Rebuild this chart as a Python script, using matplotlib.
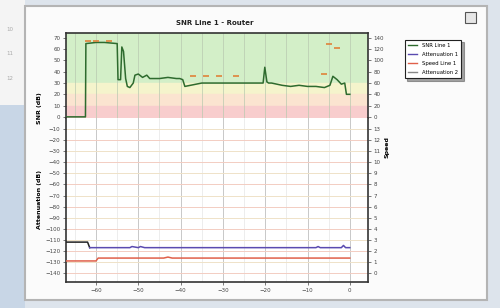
# SNR / attenuation chart, redrawn from a screenshot.

import matplotlib.pyplot as plt
from matplotlib.patches import Rectangle

# Values.

snr_t = [-67, -62.5, -62.4, -60, -58, -55, -54.8, -54.2, -53.9, -53.5, -53, -52.6, -52,
         -51.2, -50.8, -50, -49, -48, -47.3, -45, -43, -41, -40.2, -39.5, -39, -35, -30,
         -25, -20.5, -20.1, -19.6, -19.2, -18.5, -16, -14, -12, -10, -8, -6, -4.7, -4, -3,
         -2, -1.2, -0.8, 0]
snr_v = [0, 0, 65, 66, 66, 65, 33, 33, 62, 58, 34, 27, 26, 30, 37, 38, 35, 37, 34, 34,
         35, 34, 34, 33, 27, 30, 30, 30, 30, 44, 31, 30, 30, 28, 27, 28, 27, 27, 26, 28,
         36, 33, 29, 30, 20, 20]

peak_t = [-62, -60, -57, -37, -34, -31, -27, -6, -5, -3]
peak_v = [67, 67, 67, 36, 36, 36, 36, 38, 65, 61]

att1_t = [-67, -62, -61.5, -55, -52, -51.5, -50, -49.5, -48.5, -48, -8, -7.5, -7, -2, -1.5, -1, 0]
att1_v = [-112, -112, -117, -117, -117, -116, -117, -116, -117, -117, -117, -116, -117, -117, -115, -117, -117]

att2_t = [-67, -60, -59.5, -44, -43, -42, 0]
att2_v = [-129, -129, -126.4, -126.4, -125.5, -126.4, -126.4]

x_ticks = [-60, -50, -40, -30, -20, -10, 0]
snr_ticks = [0, 10, 20, 30, 40, 50, 60, 70]
att_ticks = [-10, -20, -30, -40, -50, -60, -70, -80, -90, -100, -110, -120, -130, -140]

legend_labels = ['SNR Line 1', 'Attenuation 1', 'Speed Line 1', 'Attenuation 2']

# Figure and window background.

fig = plt.figure(figsize=(5, 3.08), dpi=100, facecolor='#dde4ec')

fig.patches.append(Rectangle((0, 0.66), 0.05, 0.34, transform=fig.transFigure,
                             facecolor='#f4f4f4', edgecolor='none', zorder=-5))
fig.patches.append(Rectangle((0, 0), 0.05, 0.66, transform=fig.transFigure,
                             facecolor='#c8d6e6', edgecolor='none', zorder=-5))
fig.patches.append(Rectangle((0.05, 0.025), 0.924, 0.955, transform=fig.transFigure,
                             facecolor='#fbfbfb', edgecolor='#b4b4b4', lw=1.5, zorder=-5))
fig.patches.append(Rectangle((0.93, 0.925), 0.022, 0.035, transform=fig.transFigure,
                             facecolor='#e6e6e6', edgecolor='#555555', lw=0.8, zorder=-4))

for yy, txt in [(0.9, '10'), (0.82, '11'), (0.74, '12')]:
    fig.text(0.012, yy, txt, fontsize=4, color='#aaaaaa')

# Two stacked panels.

ax1 = fig.add_axes([0.132, 0.6169, 0.604, 0.276])
ax2 = fig.add_axes([0.132, 0.0844, 0.604, 0.5325], sharex=ax1)

ax1.set_xlim(-67.1, 4.3)
ax1.set_ylim(-1, 74.4)
ax2.set_ylim(-148, 0)

# Quality bands in the SNR panel.
ax1.axhspan(30, 80, color='#d3efc8', zorder=0)
ax1.axhspan(20, 30, color='#f5f4cc', zorder=0)
ax1.axhspan(10, 20, color='#fbe4d0', zorder=0)
ax1.axhspan(-5, 10, color='#f8cdcd', zorder=0)

for t in range(-65, 1, 5):
    ax1.axvline(t, color='#b9c9b0', lw=0.5, zorder=1)
    ax2.axvline(t, color='#e6e6e6', lw=0.5, zorder=1)
for t in x_ticks:
    ax2.axvline(t, color='#c8c8c8', lw=0.7, zorder=1)
for i, v in enumerate(att_ticks):
    ax2.axhline(v, color='#f3cdc2' if i % 2 else '#efe2c8', lw=0.7, zorder=1)

ax1.plot(snr_t, snr_v, color='#2e6b2e', lw=1.1, zorder=3)
ax1.plot(peak_t, peak_v, ls='none', marker='_', ms=4, mew=1.2, color='#e0823a', zorder=4)

ax2.plot(att1_t[:3], att1_v[:3], color='#222222', lw=1.1, zorder=3)
ax2.plot(att1_t[2:], att1_v[2:], color='#5a4bb0', lw=1.1, zorder=3)
ax2.plot(att2_t, att2_v, color='#e0604a', lw=1.1, zorder=3)

# Axes styling.

for ax in (ax1, ax2):
    ax.set_facecolor('white')
    for s in ax.spines.values():
        s.set_color('#333333')
        s.set_linewidth(1.2)
    ax.tick_params(labelsize=4, length=2, width=0.5, pad=2, colors='#444444')

ax1.spines['bottom'].set_visible(False)
ax2.spines['top'].set_visible(False)
ax1.tick_params(bottom=False, labelbottom=False)

ax1.set_yticks(snr_ticks)
ax2.set_yticks(att_ticks)
ax2.set_xticks(x_ticks)

ax1r = ax1.twinx()
ax1r.set_ylim(-2, 148.8)
ax1r.set_yticks([0, 20, 40, 60, 80, 100, 120, 140])
ax2r = ax2.twinx()
ax2r.set_ylim(-0.8, 14)
ax2r.set_yticks(range(0, 14))
for ax in (ax1r, ax2r):
    for s in ax.spines.values():
        s.set_visible(False)
    ax.tick_params(labelsize=4, length=2, width=0.5, pad=2, colors='#444444')

ax1.set_ylabel('SNR (dB)', fontsize=4.5, fontweight='bold')
ax1.yaxis.set_label_coords(-0.08, 0.12)
ax2.set_ylabel('Attenuation (dB)', fontsize=4.5, fontweight='bold')
ax2.yaxis.set_label_coords(-0.08, 0.5)
ax2r.set_ylabel('Speed', fontsize=4.5, fontweight='bold')
ax2r.yaxis.set_label_coords(1.055, 0.82)

fig.text(0.43, 0.92, 'SNR Line 1 - Router', fontsize=5, fontweight='bold',
         ha='center', color='#222222')

# Legend at the right.

handles = [plt.Line2D([], [], color=c, lw=1) for c in
           ['#2e6b2e', '#5a4bb0', '#e0604a', '#888888']]
leg = fig.legend(handles, legend_labels, loc='upper left', bbox_to_anchor=(0.804, 0.88),
                 fontsize=3.8, frameon=True, fancybox=False, shadow=True,
                 handlelength=1.8, borderpad=0.6, labelspacing=0.75)
leg.get_frame().set_edgecolor('#222222')
leg.get_frame().set_linewidth(0.8)

fig.savefig('out.png', dpi=100, facecolor=fig.get_facecolor())
